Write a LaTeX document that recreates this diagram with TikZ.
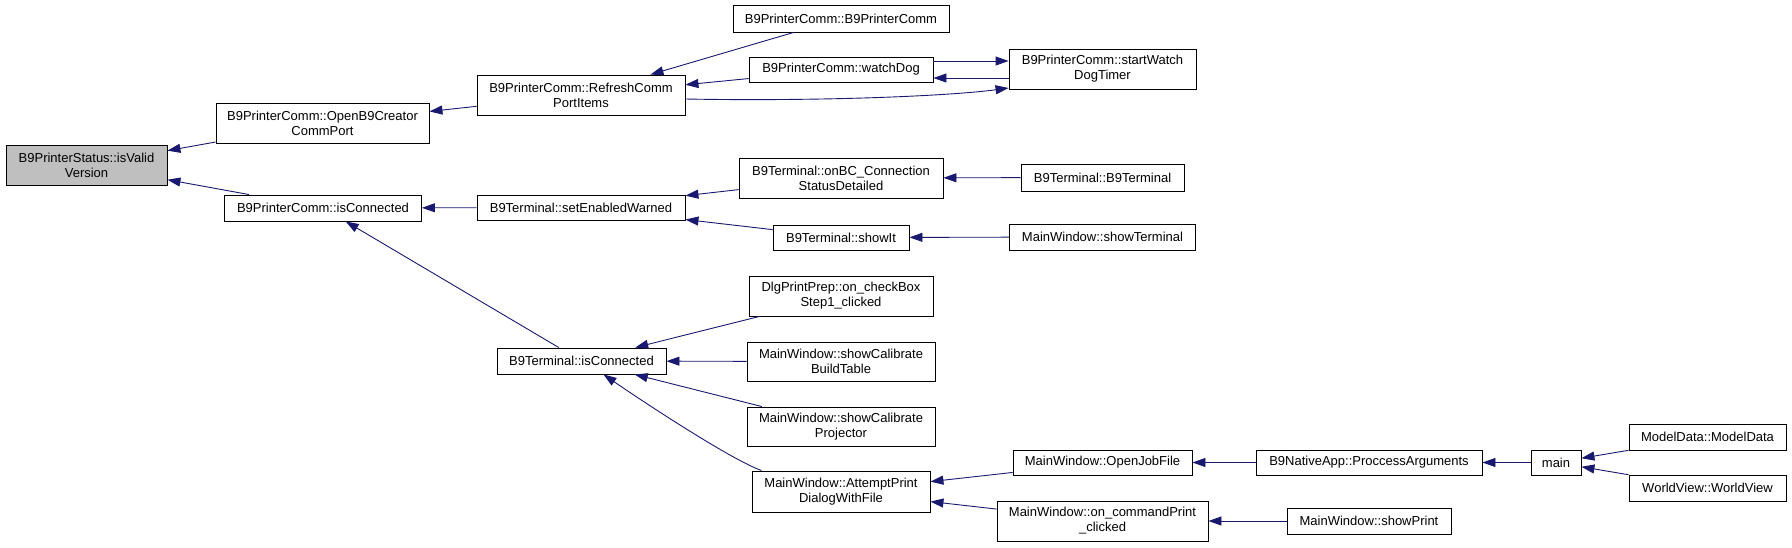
\documentclass[tikz,border=0pt]{standalone}
\usepackage{fontspec}
\setmainfont{Liberation Sans}
\usetikzlibrary{arrows.meta}
\definecolor{edgec}{HTML}{191970}
\definecolor{rootfill}{HTML}{BFBFBF}
\begin{document}
\begin{tikzpicture}[x=1pt,y=1pt,
 box/.style={draw=black,line width=0.9pt,fill=white,inner sep=0pt,align=center,font=\fontsize{13}{15}\selectfont},
 edge/.style={draw=edgec,line width=0.9pt,-{Triangle[length=13pt,width=9pt]}}]
\useasboundingbox[fill=white] (0,0) rectangle (1792,-547);
% rank 0
\node[box,minimum width=161pt,minimum height=40pt,fill=rootfill] (isv) at (86.5,-165) {B9PrinterStatus::isValid\\Version};
% rank 1
\node[box,minimum width=213pt,minimum height=40pt] (open) at (322.5,-123) {B9PrinterComm::OpenB9Creator\\CommPort};
\node[box,minimum width=197pt,minimum height=26pt] (pconn) at (323,-208) {B9PrinterComm::isConnected};
% rank 2
\node[box,minimum width=208pt,minimum height=40pt] (refresh) at (581,-95) {B9PrinterComm::RefreshComm\\PortItems};
\node[box,minimum width=208pt,minimum height=25pt] (sew) at (581,-207.5) {B9Terminal::setEnabledWarned};
\node[box,minimum width=169pt,minimum height=26pt] (tconn) at (581.5,-361) {B9Terminal::isConnected};
% rank 3
\node[box,minimum width=216pt,minimum height=27pt] (ctor) at (841,-18.5) {B9PrinterComm::B9PrinterComm};
\node[box,minimum width=184pt,minimum height=25pt] (wd) at (841,-69.5) {B9PrinterComm::watchDog};
\node[box,minimum width=204pt,minimum height=40pt] (onbc) at (841,-178) {B9Terminal::onBC\_Connection\\StatusDetailed};
\node[box,minimum width=136pt,minimum height=25pt] (showit) at (841,-237.5) {B9Terminal::showIt};
\node[box,minimum width=184pt,minimum height=40pt] (dlg) at (841,-296) {DlgPrintPrep::on\_checkBox\\Step1\_clicked};
\node[box,minimum width=188pt,minimum height=39pt] (cbt) at (841,-361.5) {MainWindow::showCalibrate\\BuildTable};
\node[box,minimum width=188pt,minimum height=39pt] (cpr) at (841,-426.5) {MainWindow::showCalibrate\\Projector};
\node[box,minimum width=178pt,minimum height=41pt] (api) at (841,-491.5) {MainWindow::AttemptPrint\\DialogWithFile};
% rank 4
\node[box,minimum width=187pt,minimum height=40pt] (swd) at (1102.5,-69) {B9PrinterComm::startWatch\\DogTimer};
\node[box,minimum width=163pt,minimum height=27pt] (b9t) at (1102.5,-177.5) {B9Terminal::B9Terminal};
\node[box,minimum width=186pt,minimum height=26pt] (sterm) at (1102.5,-237) {MainWindow::showTerminal};
\node[box,minimum width=179pt,minimum height=25pt] (ojf) at (1102.5,-462.5) {MainWindow::OpenJobFile};
\node[box,minimum width=211pt,minimum height=40pt] (ocp) at (1102.5,-521) {MainWindow::on\_commandPrint\\\_clicked};
% rank 5
\node[box,minimum width=226pt,minimum height=25pt] (pa) at (1369,-462.5) {B9NativeApp::ProccessArguments};
\node[box,minimum width=164pt,minimum height=26pt] (sp) at (1369,-521) {MainWindow::showPrint};
% rank 6
\node[box,minimum width=50pt,minimum height=25pt] (main) at (1556,-462.5) {main};
% rank 7
\node[box,minimum width=157pt,minimum height=26pt] (md) at (1707.5,-437) {ModelData::ModelData};
\node[box,minimum width=157pt,minimum height=26pt] (wv) at (1707.5,-488) {WorldView::WorldView};
% edges
\draw[edge] (open) -- (isv);
\draw[edge] (pconn) -- (isv);
\draw[edge] (refresh) -- (open);
\draw[edge] (ctor) -- (refresh);
\draw[edge] (wd) -- (refresh);
\draw[edge] ([yshift=-4pt]refresh.east) .. controls (820,-101.5) and (950,-96) .. ([yshift=-19pt]swd.west);
\draw[edge] ([yshift=8.5pt]wd.east) -- ([yshift=8.5pt]wd.east -| swd.west);
\draw[edge] ([yshift=-9pt]swd.west) -- ([yshift=-9pt]swd.west -| wd.east);
\draw[edge] (sew) -- (pconn);
\draw[edge] (tconn) -- (pconn);
\draw[edge] (onbc) -- (sew);
\draw[edge] (showit) -- (sew);
\draw[edge] (b9t) -- (onbc);
\draw[edge] (sterm) -- (showit);
\draw[edge] (dlg) -- (tconn);
\draw[edge] (cbt) -- (tconn);
\draw[edge] (cpr) -- (tconn);
\draw[edge] ([xshift=10pt]api.north west) .. controls (732,-460) and (648,-405) .. ([xshift=22pt]tconn.south);
\draw[edge] (ojf) -- (api);
\draw[edge] (ocp) -- (api);
\draw[edge] (pa) -- (ojf);
\draw[edge] (sp) -- (ocp);
\draw[edge] (main) -- (pa);
\draw[edge] (md) -- (main);
\draw[edge] (wv) -- (main);
\end{tikzpicture}
\end{document}
